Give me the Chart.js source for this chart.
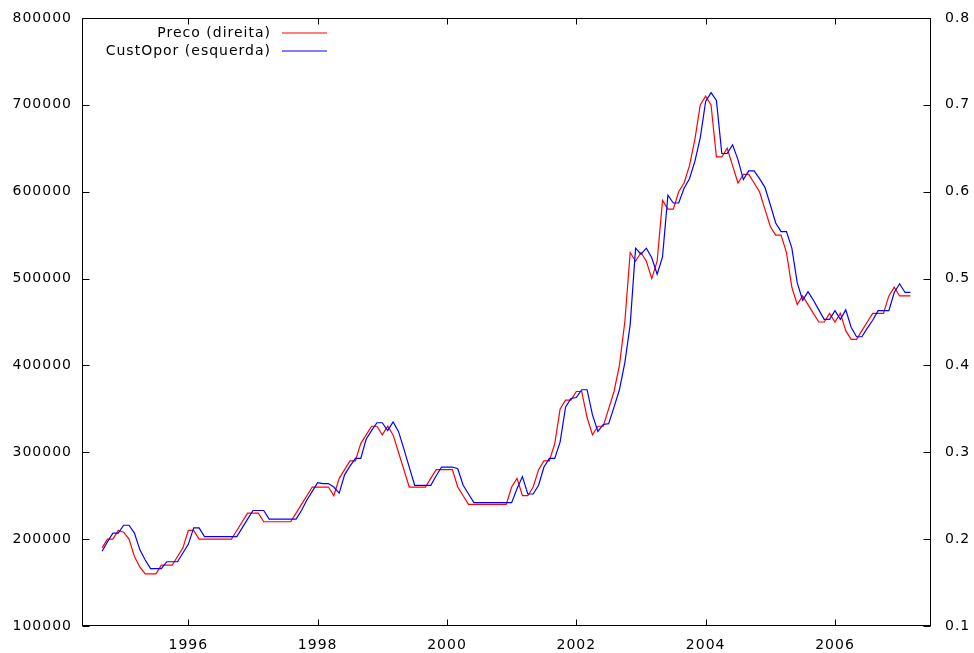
<!DOCTYPE html>
<html>
<head>
<meta charset="utf-8">
<script src="https://cdn.jsdelivr.net/npm/chart.js@4.4.1/dist/chart.umd.min.js"></script>
<style>
  html, body { margin: 0; padding: 0; background: #fff; }
  canvas { display: block; }
</style>
</head>
<body>
<canvas id="grafico" width="974" height="653"></canvas>
<script>
// dados mensais, de setembro de 1994 a março de 2007
const inicioAno = 1994;
const inicioMes = 9;

// Preco (eixo direito)
const preco = [
  0.19, 0.20, 0.20, 0.21, 0.208, 0.20, 0.18, 0.168, 0.16, 0.16,
  0.16, 0.17, 0.17, 0.17, 0.18, 0.19, 0.21, 0.21, 0.20, 0.20,
  0.20, 0.20, 0.20, 0.20, 0.20, 0.21, 0.22, 0.23, 0.23, 0.23,
  0.22, 0.22, 0.22, 0.22, 0.22, 0.22, 0.23, 0.24, 0.25, 0.26,
  0.26, 0.26, 0.26, 0.25, 0.27, 0.28, 0.29, 0.29, 0.31, 0.32,
  0.33, 0.33, 0.32, 0.33, 0.32, 0.30, 0.28, 0.26, 0.26, 0.26,
  0.26, 0.27, 0.28, 0.28, 0.28, 0.28, 0.26, 0.25, 0.24, 0.24,
  0.24, 0.24, 0.24, 0.24, 0.24, 0.24, 0.26, 0.27, 0.25, 0.25,
  0.26, 0.28, 0.29, 0.29, 0.31, 0.35, 0.36, 0.36, 0.37, 0.37,
  0.34, 0.32, 0.33, 0.33, 0.35, 0.37, 0.40, 0.45, 0.53, 0.52,
  0.53, 0.52, 0.50, 0.52, 0.59, 0.58, 0.58, 0.60, 0.61, 0.63,
  0.66, 0.70, 0.71, 0.70, 0.64, 0.64, 0.65, 0.63, 0.61, 0.62,
  0.62, 0.61, 0.60, 0.58, 0.56, 0.55, 0.55, 0.53, 0.49, 0.47,
  0.48, 0.47, 0.46, 0.45, 0.45, 0.46, 0.45, 0.46, 0.44, 0.43,
  0.43, 0.44, 0.45, 0.46, 0.46, 0.46, 0.48, 0.49, 0.48, 0.48, 0.48
];

// CustOpor (eixo esquerdo)
const custOpor = [
  186000, 197000, 207000, 207000, 216000, 216000, 207000, 188000, 176000, 166000,
  166000, 166000, 174000, 174000, 174000, 184000, 194000, 213000, 213000, 203000,
  203000, 203000, 203000, 203000, 203000, 203000, 213000, 223000, 233000, 233000,
  233000, 223000, 223000, 223000, 223000, 223000, 223000, 233000, 245000, 255000,
  265000, 264000, 264000, 260000, 253000, 274000, 284000, 293000, 293000, 315000,
  325000, 334000, 334000, 325000, 335000, 324000, 304000, 283000, 262000, 262000,
  262000, 262000, 273000, 283000, 283000, 283000, 281000, 262000, 252000, 242000,
  242000, 242000, 242000, 242000, 242000, 242000, 242000, 258000, 272000, 252000,
  252000, 262000, 283000, 293000, 293000, 312000, 352000, 362000, 363000, 372000,
  372000, 343000, 324000, 332000, 333000, 352000, 372000, 403000, 447000, 535000,
  528000, 535000, 524000, 505000, 525000, 596000, 587000, 587000, 604000, 615000,
  635000, 662000, 704000, 714000, 705000, 644000, 644000, 654000, 637000, 614000,
  624000, 624000, 615000, 605000, 585000, 564000, 554000, 554000, 535000, 495000,
  475000, 485000, 475000, 464000, 453000, 453000, 463000, 453000, 464000, 444000,
  433000, 433000, 443000, 452000, 463000, 463000, 463000, 484000, 494000, 484000, 484000
];

// rotulos dos eixos
const anosX = [1996, 1998, 2000, 2002, 2004, 2006];
const ticksEsq = [100000, 200000, 300000, 400000, 500000, 600000, 700000, 800000];
const ticksDir = [0.1, 0.2, 0.3, 0.4, 0.5, 0.6, 0.7, 0.8];

const datas = preco.map((_, i) => inicioAno + (inicioMes - 1 + i) / 12);

const fonte = { family: '"DejaVu Sans", Verdana, sans-serif', size: 14 };

// letras um pouco mais espacadas, como no gnuplot
const espacamento = {
  id: 'espacamento',
  beforeDraw(chart) { chart.ctx.letterSpacing = '1px'; }
};

// moldura e marcas para dentro, estilo gnuplot
const moldura = {
  id: 'moldura',
  afterDraw(chart) {
    const { ctx, chartArea: a, scales } = chart;
    const L = Math.round(a.left) + 0.5, R = Math.round(a.right) - 0.5;
    const T = Math.round(a.top) + 0.5, B = Math.round(a.bottom) - 0.5;
    ctx.save();
    ctx.strokeStyle = '#000';
    ctx.lineWidth = 1;
    ctx.beginPath();
    scales.x.ticks.forEach(t => {
      const px = Math.round(scales.x.getPixelForValue(t.value)) + 0.5;
      ctx.moveTo(px, B); ctx.lineTo(px, B - 6);
      ctx.moveTo(px, T); ctx.lineTo(px, T + 6);
    });
    scales.y.ticks.forEach(t => {
      const py = Math.round(scales.y.getPixelForValue(t.value)) + 0.5;
      ctx.moveTo(L, py); ctx.lineTo(L + 7, py);
    });
    scales.y2.ticks.forEach(t => {
      const py = Math.round(scales.y2.getPixelForValue(t.value)) + 0.5;
      ctx.moveTo(R, py); ctx.lineTo(R - 7, py);
    });
    ctx.stroke();
    ctx.strokeRect(L, T, R - L, B - T);
    ctx.restore();
  }
};

// legenda: texto alinhado a direita e amostra da linha depois
const legenda = {
  id: 'legenda',
  afterDraw(chart) {
    const { ctx } = chart;
    const itens = [chart.data.datasets[0], chart.data.datasets[1]];
    ctx.save();
    ctx.font = '14px ' + fonte.family;
    ctx.letterSpacing = '1px';
    ctx.textAlign = 'right';
    ctx.textBaseline = 'middle';
    itens.forEach((ds, i) => {
      const y = 33 + i * 18;
      ctx.fillStyle = '#000';
      ctx.fillText(ds.label, 271, y);
      ctx.strokeStyle = ds.borderColor;
      ctx.lineWidth = 1.2;
      ctx.beginPath();
      ctx.moveTo(282, y);
      ctx.lineTo(327, y);
      ctx.stroke();
    });
    ctx.restore();
  }
};

const semPadding = s => { s.paddingTop = 0; s.paddingBottom = 0; };

new Chart(document.getElementById('grafico'), {
  type: 'line',
  data: {
    datasets: [
      {
        label: 'Preco (direita)',
        data: datas.map((x, i) => ({ x, y: preco[i] })),
        yAxisID: 'y2',
        borderColor: 'rgb(255, 0, 0)',
        borderWidth: 1.2,
        pointRadius: 0,
        tension: 0,
        order: 1
      },
      {
        label: 'CustOpor (esquerda)',
        data: datas.map((x, i) => ({ x, y: custOpor[i] })),
        yAxisID: 'y',
        borderColor: 'rgb(0, 0, 255)',
        borderWidth: 1.2,
        pointRadius: 0,
        tension: 0,
        order: 0
      }
    ]
  },
  options: {
    responsive: false,
    animation: false,
    devicePixelRatio: 1,
    layout: { padding: { top: 18, left: 0, right: 0, bottom: 0 } },
    plugins: { legend: { display: false }, tooltip: { enabled: false } },
    scales: {
      x: {
        type: 'linear',
        min: 1994.356,
        max: 2007.485,
        afterBuildTicks: s => { s.ticks = anosX.map(v => ({ value: v })); },
        afterFit: s => { s.height = 27; s.paddingLeft = 0; s.paddingRight = 0; },
        grid: { display: false, drawTicks: false },
        border: { display: false },
        ticks: { font: fonte, color: '#000', padding: 11, maxRotation: 0,
                 callback: v => String(v) }
      },
      y: {
        position: 'left',
        min: 100000,
        max: 800000,
        afterBuildTicks: s => { s.ticks = ticksEsq.map(v => ({ value: v })); },
        afterFit: s => { s.width = 82; semPadding(s); },
        grid: { display: false, drawTicks: false },
        border: { display: false },
        ticks: { font: fonte, color: '#000', padding: 10, callback: v => String(v) }
      },
      y2: {
        position: 'right',
        min: 0.1,
        max: 0.8,
        afterBuildTicks: s => { s.ticks = ticksDir.map(v => ({ value: v })); },
        afterFit: s => { s.width = 43; semPadding(s); },
        grid: { display: false, drawTicks: false },
        border: { display: false },
        ticks: { font: fonte, color: '#000', padding: 14, callback: v => v.toFixed(1) }
      }
    }
  },
  plugins: [espacamento, moldura, legenda]
});
</script>
</body>
</html>
